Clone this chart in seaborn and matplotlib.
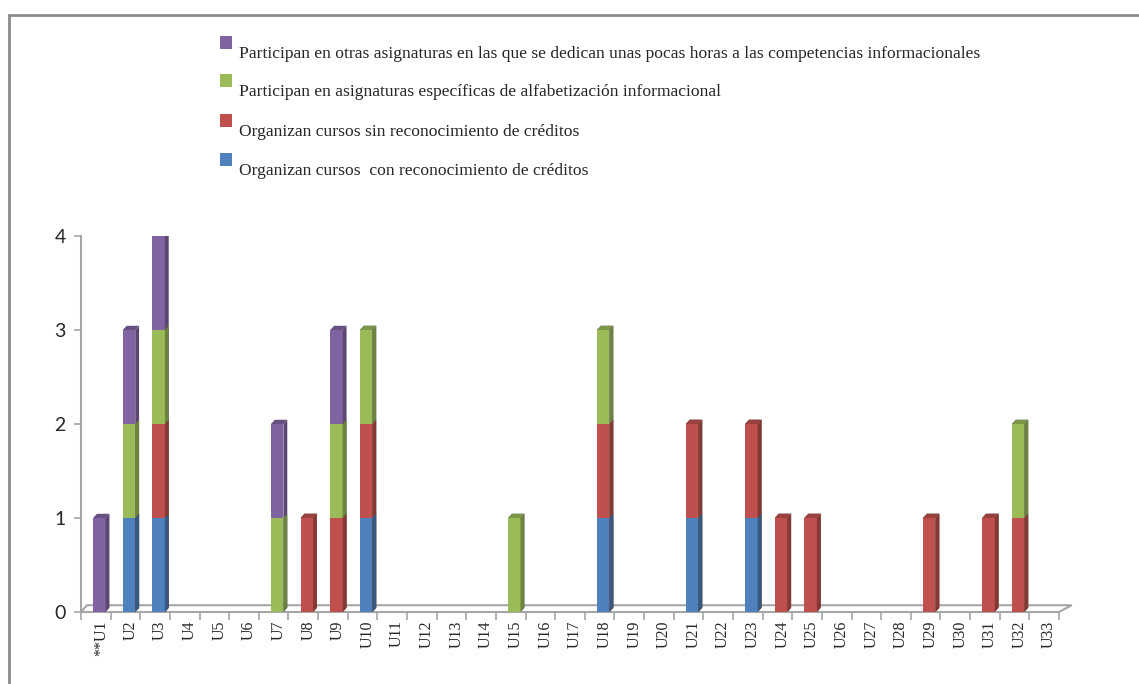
import numpy as np
import pandas as pd
import seaborn as sns
import matplotlib.pyplot as plt
from matplotlib.patches import Polygon, Rectangle
import matplotlib.colors as mcolors
import matplotlib.transforms as mtransforms

## Data
units = ['**U1'] + ['U%d' % i for i in range(2, 34)]
# one value per unit, 33 units
con_creditos = [0, 1, 1, 0, 0, 0, 0, 0, 0, 1, 0, 0, 0, 0, 0, 0, 0, 1, 0, 0, 1, 0, 1, 0, 0, 0, 0, 0, 0, 0, 0, 0, 0]
sin_creditos = [0, 0, 1, 0, 0, 0, 0, 1, 1, 1, 0, 0, 0, 0, 0, 0, 0, 1, 0, 0, 1, 0, 1, 1, 1, 0, 0, 0, 1, 0, 1, 1, 0]
especificas = [0, 1, 1, 0, 0, 0, 1, 0, 1, 1, 0, 0, 0, 0, 1, 0, 0, 1, 0, 0, 0, 0, 0, 0, 0, 0, 0, 0, 0, 0, 0, 1, 0]
otras = [1, 1, 1, 0, 0, 0, 1, 0, 1, 0, 0, 0, 0, 0, 0, 0, 0, 0, 0, 0, 0, 0, 0, 0, 0, 0, 0, 0, 0, 0, 0, 0, 0]

labels = ['Participan en otras asignaturas en las que se dedican unas pocas horas a las competencias informacionales',
          'Participan en asignaturas específicas de alfabetización informacional',
          'Organizan cursos sin reconocimiento de créditos',
          'Organizan cursos  con reconocimiento de créditos']
colors = ['#8064A2', '#9BBB59', '#C0504D', '#4F81BD']

df = pd.DataFrame({'unit': units, 'blue': con_creditos, 'red': sin_creditos,
                   'green': especificas, 'purple': otras})
df['c_blue'] = df['blue']
df['c_red'] = df['c_blue'] + df['red']
df['c_green'] = df['c_red'] + df['green']
df['c_purple'] = df['c_green'] + df['purple']
total = df['c_purple'].values

sns.set_style('white')
fig = plt.figure(figsize=(11.39, 6.84), dpi=100)
ax = fig.add_axes([81 / 1139, 72 / 684, 978 / 1139, 376 / 684])

# stacked bars: draw cumulative totals, tallest first
layers = ['c_purple', 'c_green', 'c_red', 'c_blue']
dx, dy = 0.13, 0.045
shift = 0.12  # 3D perspective puts the bars a bit right of the slot centre
for k, (col, c) in enumerate(zip(layers, colors)):
    n0 = len(ax.patches)
    sns.barplot(data=df, x='unit', y=col, color=c, saturation=1, width=0.42,
                errorbar=None, ax=ax, zorder=3 + k)
    dark = np.array(mcolors.to_rgb(c)) * 0.7
    for i, p in enumerate(list(ax.patches[n0:])):
        h = p.get_height()
        p.set_edgecolor('none')
        p.set_x(p.get_x() + shift)
        if h <= 0:
            continue
        x0 = p.get_x()
        x1 = x0 + p.get_width()
        side = Polygon([(x1, 0), (x1 + dx, dy), (x1 + dx, h + dy), (x1, h)],
                       closed=True, facecolor=dark, edgecolor='none', zorder=3 + k + 0.5)
        ax.add_patch(side)
        if h == total[i]:
            top = Polygon([(x0, h), (x0 + dx, h + dy), (x1 + dx, h + dy), (x1, h)],
                          closed=True, facecolor=np.array(mcolors.to_rgb(c)) * 0.8,
                          edgecolor='none', zorder=3 + k + 0.5)
            ax.add_patch(top)

ax.set_xlim(-0.5, 32.5)
ax.set_ylim(0, 4)
ax.set_xlabel('')
ax.set_ylabel('')

# floor
floor = Polygon([(0, 0), (1, 0), (1.013, 0.018), (0.006, 0.018)], closed=True,
                transform=ax.transAxes, facecolor='white', edgecolor='#A6A6A6',
                linewidth=1.5, clip_on=False, zorder=2)
ax.add_patch(floor)

for s in ['top', 'right', 'bottom']:
    ax.spines[s].set_visible(False)
ax.spines['left'].set_color('#A6A6A6')
ax.spines['left'].set_linewidth(1.5)

ax.set_yticks([0, 1, 2, 3, 4])
ax.set_yticklabels(['0', '1', '2', '3', '4'], fontsize=14, family=['Lato', 'DejaVu Sans'])
ax.tick_params(axis='y', length=5, width=1.2, color='#A6A6A6', pad=6, left=True)

ax.set_xticks(range(len(units)))
ax.set_xticklabels(units, rotation=90, fontsize=11.5, family=['Liberation Serif'])
ax.set_xticks(np.arange(-0.5, 33, 1), minor=True)
ax.tick_params(axis='x', which='major', length=0, pad=6)
ax.tick_params(axis='x', which='minor', length=6, width=1.2, color='#A6A6A6', bottom=True)
off = mtransforms.ScaledTranslation(5 / 100, 0, fig.dpi_scale_trans)
for t in ax.get_xticklabels():
    t.set_transform(t.get_transform() + off)

# legend
W, H = 1139, 684
leg_y = [54, 92, 132, 171]
for lab, c, y in zip(labels, colors, leg_y):
    fig.patches.append(Rectangle((220 / W, 1 - (y - 5) / H), 12 / W, 13 / H,
                                 transform=fig.transFigure, facecolor=c, edgecolor='none'))
    fig.text(239 / W, 1 - y / H, lab, fontsize=12.6, family=['Liberation Serif'],
             va='center', ha='left')

# outer frame
fig.patches.append(Rectangle((9 / W, -0.05), 1.1, 1 - 15 / H + 0.05, transform=fig.transFigure,
                             fill=False, edgecolor='#8C8C8C', linewidth=2))

fig.savefig('out.png', dpi=100)
